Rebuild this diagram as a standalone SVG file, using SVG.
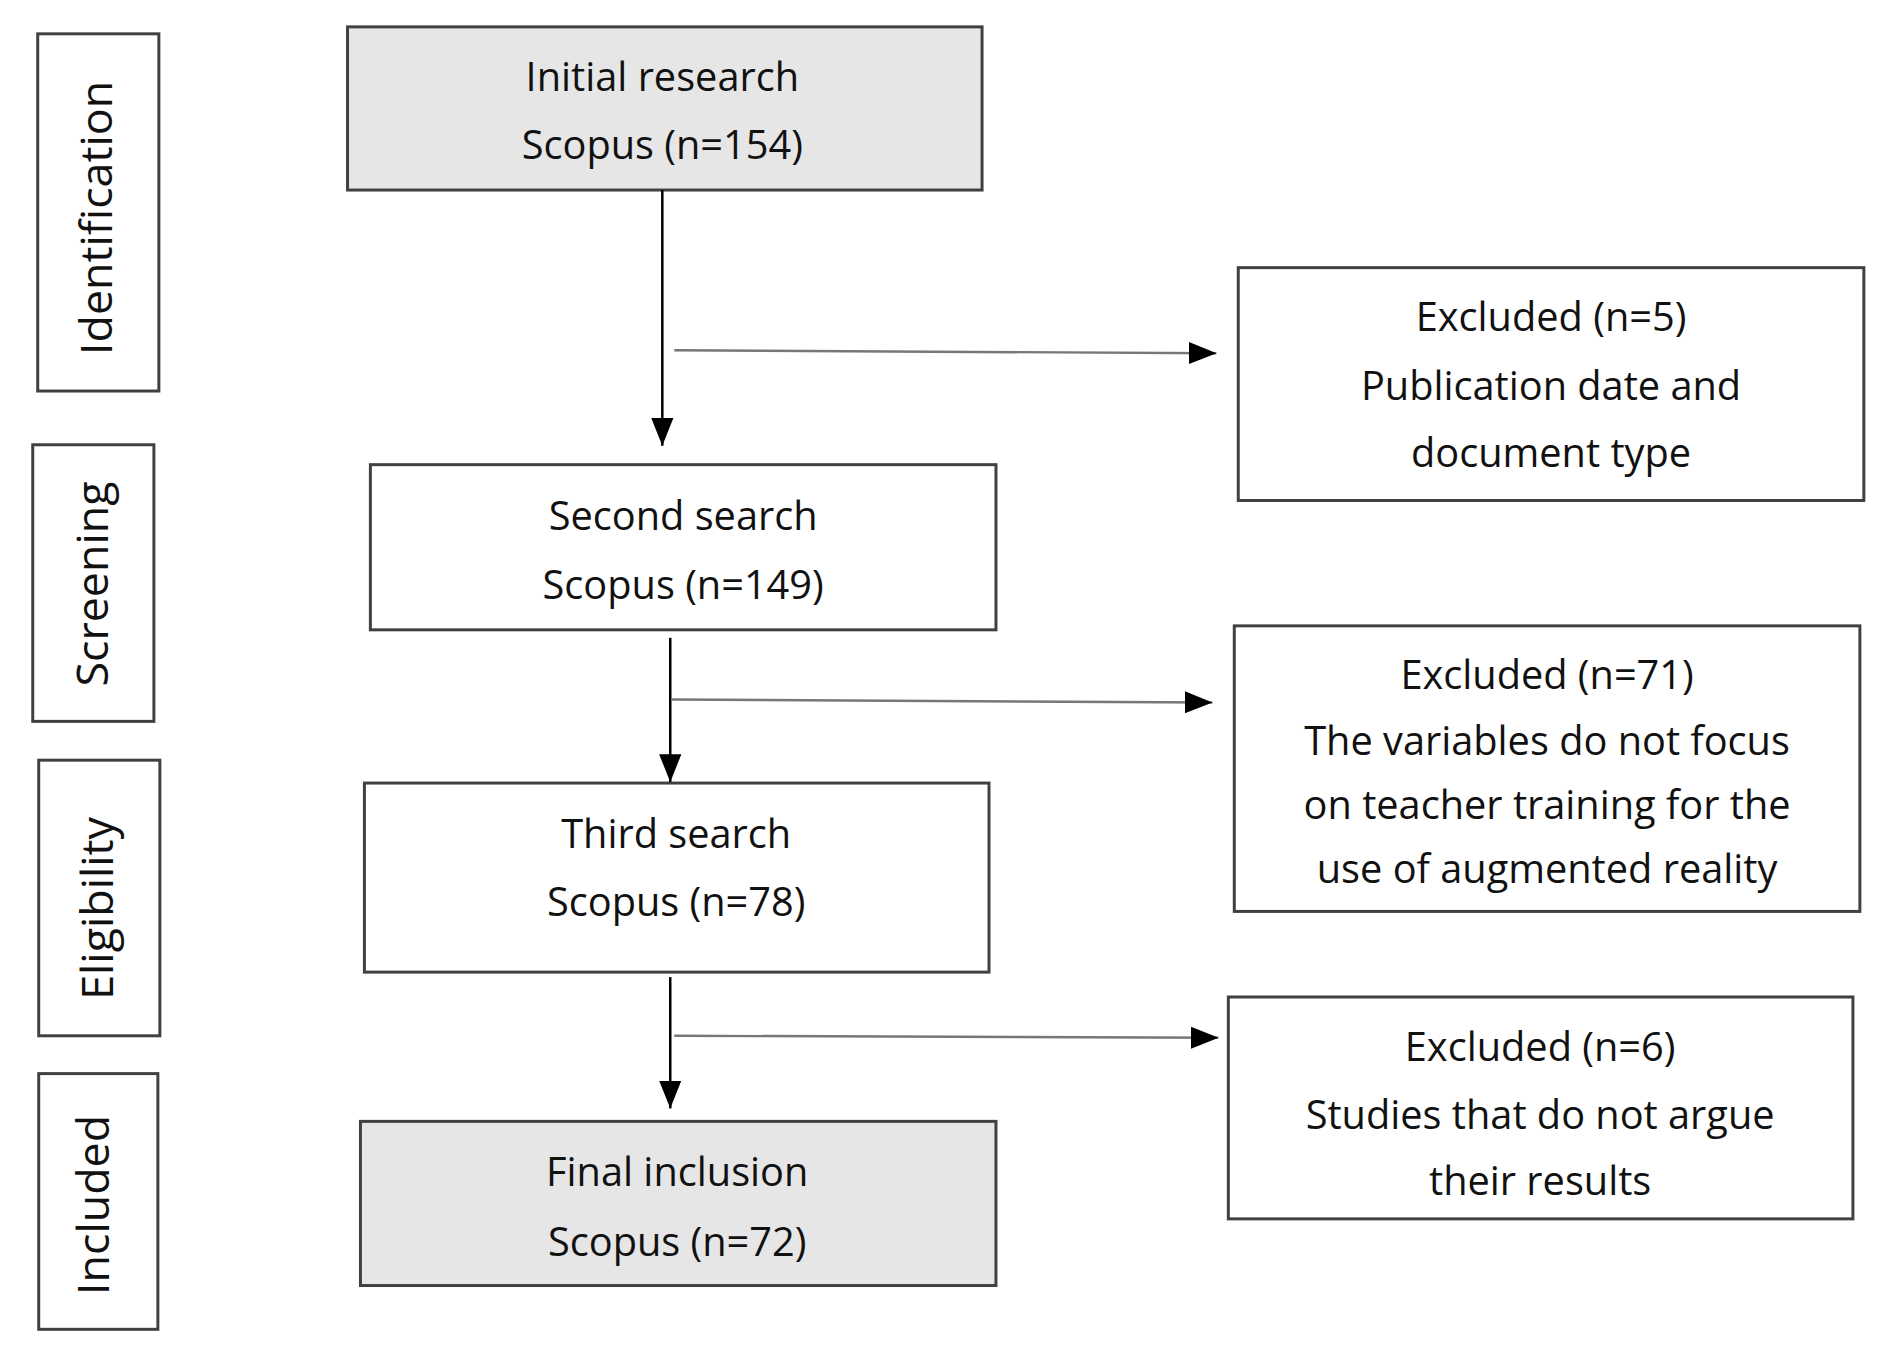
<svg xmlns="http://www.w3.org/2000/svg" width="1898" height="1346" viewBox="0 0 1898 1346">
<style>
.b{fill:#fff;stroke:#404040;stroke-width:3}
.g{fill:#e6e6e6;stroke:#404040;stroke-width:3}
text{font-family:"Open Sans","Liberation Sans",sans-serif;font-size:40px;fill:#111;text-anchor:middle}
.s{font-size:45px}
.c line{stroke:#000;stroke-width:2.5}
.c .h{stroke:#777}
</style>
<defs><marker id="m" viewBox="0 0 10 10" refX="10" refY="5" markerWidth="28" markerHeight="28" markerUnits="userSpaceOnUse" orient="auto"><path d="M0,1L10,5L0,9z" fill="#000"/></marker></defs>
<g transform="translate(-2,0) scale(0.993,0.995)">
<g id="identification"><rect class="b" x="40" y="34" width="122" height="359"/><text class="s" transform="translate(115,219) rotate(-90)">Identification</text></g>
<g id="screening"><rect class="b" x="35" y="447" width="122" height="278"/><text class="s" transform="translate(111,587) rotate(-90)">Screening</text></g>
<g id="eligibility"><rect class="b" x="41" y="764" width="122" height="277"/><text class="s" transform="translate(116,913) rotate(-90)">Eligibility</text></g>
<g id="included"><rect class="b" x="41" y="1079" width="120" height="257"/><text class="s" transform="translate(112,1211) rotate(-90)">Included</text></g>
<g id="initial"><rect class="g" x="352" y="27" width="639" height="164"/><text x="669" y="91">Initial research</text><text x="669" y="160">Scopus (n=154)</text></g>
<g id="second"><rect class="b" x="375" y="467" width="630" height="166"/><text x="690" y="533">Second search</text><text x="690" y="602">Scopus (n=149)</text></g>
<g id="third"><rect class="b" x="369" y="787" width="629" height="190"/><text x="683" y="852">Third search</text><text x="683" y="921">Scopus (n=78)</text></g>
<g id="final"><rect class="g" x="365" y="1127" width="640" height="165"/><text x="684" y="1192">Final inclusion</text><text x="684" y="1262">Scopus (n=72)</text></g>
<g id="excl5"><rect class="b" x="1249" y="269" width="630" height="234"/><text x="1564" y="333">Excluded (n=5)</text><text x="1564" y="402">Publication date and</text><text x="1564" y="469">document type</text></g>
<g id="excl71"><rect class="b" x="1245" y="629" width="630" height="287"/><text x="1560" y="692">Excluded (n=71)</text><text x="1560" y="759">The variables do not focus</text><text x="1560" y="823">on teacher training for the</text><text x="1560" y="887">use of augmented reality</text></g>
<g id="excl6"><rect class="b" x="1239" y="1002" width="629" height="223"/><text x="1553" y="1066">Excluded (n=6)</text><text x="1553" y="1135">Studies that do not argue</text><text x="1553" y="1201">their results</text></g>
<g class="c" id="connectors">
<line x1="669" y1="191" x2="669" y2="448" marker-end="url(#m)"/>
<line class="h" x1="681" y1="352" x2="1227" y2="355" marker-end="url(#m)"/>
<line x1="677" y1="641" x2="677" y2="786" marker-end="url(#m)"/>
<line class="h" x1="678" y1="703" x2="1223" y2="706" marker-end="url(#m)"/>
<line x1="677" y1="982" x2="677" y2="1114" marker-end="url(#m)"/>
<line class="h" x1="681" y1="1041" x2="1229" y2="1043" marker-end="url(#m)"/>
</g>
</g>
</svg>
